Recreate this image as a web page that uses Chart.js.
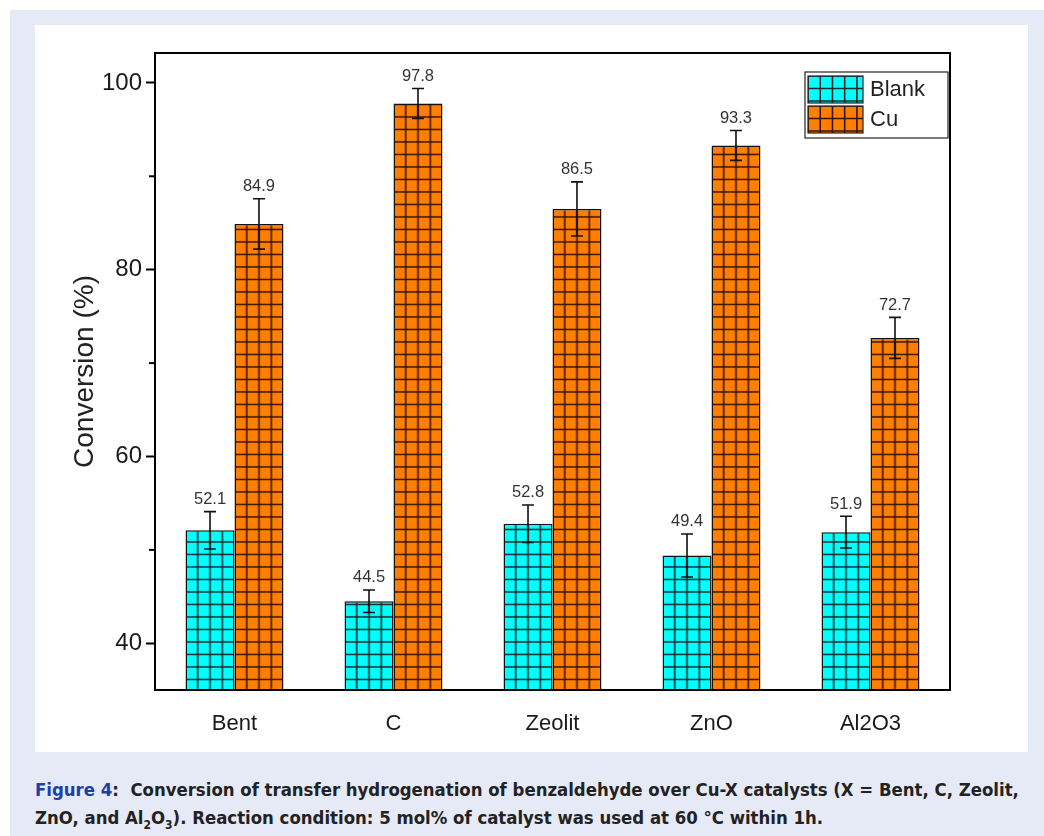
<!DOCTYPE html>
<html>
<head>
<meta charset="utf-8">
<script src="https://cdn.jsdelivr.net/npm/chart.js@4"></script>
<style>
  body { margin: 0; background: #fff; }
  #outer { position: absolute; left: 10px; top: 10px; width: 1034px; height: 826px; background: #e6eaf6; }
  #panel { position: absolute; left: 25px; top: 15px; width: 993px; height: 727px; background: #fff; }
  #caption { position: absolute; left: 25px; top: 766px; width: 1010px; font-family: "DejaVu Sans Condensed", "DejaVu Sans", sans-serif; font-weight: bold; font-size: 18.4px; line-height: 28px; color: #222; white-space: nowrap; }
  #caption .fig { color: #1c3fa8; }
  sub { font-size: 12px; line-height: 0; }
</style>
</head>
<body>
<div id="outer">
  <div id="panel"><canvas id="myChart" width="993" height="727"></canvas></div>
  <div id="caption"><span class="fig">Figure 4</span>:&nbsp; Conversion of transfer hydrogenation of benzaldehyde over Cu-X catalysts (X = Bent, C, Zeolit,<br>ZnO, and Al<sub>2</sub>O<sub>3</sub>). Reaction condition: 5 mol% of catalyst was used at 60&nbsp;&deg;C within 1h.</div>
</div>
<script>
// data
var categories = ['Bent', 'C', 'Zeolit', 'ZnO', 'Al2O3'];
var blankValues = [52.1, 44.5, 52.8, 49.4, 51.9];
var cuValues = [84.9, 97.8, 86.5, 93.3, 72.7];
var blankErrors = [2.0, 1.2, 2.0, 2.3, 1.7];
var cuErrors = [2.7, 1.6, 2.9, 1.6, 2.2];
var yTicks = [40, 60, 80, 100];

var FONT = 'Liberation Sans, Arial, sans-serif';

// square grid fill, one category wide so the cells line up with every bar
function gridPattern(fill, line) {
    var c = document.createElement('canvas');
    c.width = 159; c.height = 25;
    var g = c.getContext('2d');
    g.fillStyle = fill;
    g.fillRect(0, 0, c.width, c.height);
    g.strokeStyle = line;
    g.lineWidth = 1.6;
    g.beginPath();
    var cell = 159 / 13;
    for (var k = 0; k <= 13; k++) {
        g.moveTo(k * cell, 0); g.lineTo(k * cell, 25);
    }
    g.moveTo(0, 0); g.lineTo(159, 0);
    g.moveTo(0, 12.5); g.lineTo(159, 12.5);
    g.moveTo(0, 25); g.lineTo(159, 25);
    g.stroke();
    return g.createPattern(c, 'repeat');
}
var cyanPat = gridPattern('#00ffff', '#1b2b2b');
var orangePat = gridPattern('#ff8000', '#3a1400');

var extras = {
    id: 'extras',
    beforeDatasetsDraw: function (chart) {
        [cyanPat, orangePat].forEach(function (p, i) {
            var el = chart.getDatasetMeta(i).data[0];
            p.setTransform(new DOMMatrix([1, 0, 0, 1, el.x - el.width / 2, el.base]));
        });
    },
    afterDatasetsDraw: function (chart) {
        var ctx = chart.ctx;
        var y = chart.scales.y;
        var a = chart.chartArea;
        var errs = [blankErrors, cuErrors];
        ctx.save();
        // error bars and value labels
        chart.data.datasets.forEach(function (ds, i) {
            chart.getDatasetMeta(i).data.forEach(function (el, j) {
                var v = ds.data[j];
                var top = y.getPixelForValue(v + errs[i][j]);
                var bot = y.getPixelForValue(v - errs[i][j]);
                ctx.strokeStyle = '#111';
                ctx.lineWidth = 1.6;
                ctx.beginPath();
                ctx.moveTo(el.x, top); ctx.lineTo(el.x, bot);
                ctx.moveTo(el.x - 6, top); ctx.lineTo(el.x + 6, top);
                ctx.moveTo(el.x - 6, bot); ctx.lineTo(el.x + 6, bot);
                ctx.stroke();
                ctx.fillStyle = '#333';
                ctx.font = '16.5px ' + FONT;
                ctx.textAlign = 'center';
                ctx.textBaseline = 'bottom';
                ctx.fillText(v.toFixed(1), el.x, top - 4);
            });
        });
        // minor ticks
        ctx.strokeStyle = '#000';
        ctx.lineWidth = 2;
        [50, 70, 90].forEach(function (v) {
            var py = y.getPixelForValue(v);
            ctx.beginPath();
            ctx.moveTo(a.left - 6, py); ctx.lineTo(a.left, py);
            ctx.stroke();
        });
        // frame
        ctx.strokeRect(a.left, a.top, a.right - a.left, a.bottom - a.top);
        // legend
        var lx = 770, ly = 47;
        ctx.lineWidth = 1.2;
        ctx.strokeStyle = '#222';
        ctx.strokeRect(lx, ly, 143, 66);
        var names = ['Blank', 'Cu'];
        var pats = [cyanPat, orangePat];
        for (var i = 0; i < 2; i++) {
            var sy = ly + 4 + i * 30;
            pats[i].setTransform(new DOMMatrix([1, 0, 0, 1, lx + 3, sy]));
            ctx.fillStyle = pats[i];
            ctx.fillRect(lx + 3, sy, 55, 27);
            ctx.strokeStyle = '#222';
            ctx.strokeRect(lx + 3, sy, 55, 27);
            ctx.fillStyle = '#222';
            ctx.font = '22px ' + FONT;
            ctx.textAlign = 'left';
            ctx.textBaseline = 'middle';
            ctx.fillText(names[i], lx + 65, sy + 14);
        }
        ctx.restore();
    }
};

var myChart = document.getElementById('myChart').getContext('2d');
var conversionChart = new Chart(myChart, {
    type: 'bar',
    data: {
        labels: categories,
        datasets: [{
            label: 'Blank',
            data: blankValues,
            backgroundColor: cyanPat,
            borderColor: '#111',
            borderWidth: 1.5,
            categoryPercentage: 0.616,
            barPercentage: 1
        }, {
            label: 'Cu',
            data: cuValues,
            backgroundColor: orangePat,
            borderColor: '#111',
            borderWidth: 1.5,
            categoryPercentage: 0.616,
            barPercentage: 1
        }]
    },
    options: {
        responsive: false,
        animation: false,
        layout: { padding: { top: 28, right: 78, left: 0, bottom: 0 } },
        plugins: {
            legend: { display: false },
            tooltip: { enabled: false }
        },
        scales: {
            x: {
                grid: { display: false },
                border: { display: false },
                ticks: { color: '#1a1a1a', font: { family: FONT, size: 22 }, padding: 13 },
                afterFit: function (s) { s.height = 62; }
            },
            y: {
                min: 35,
                max: 103.2,
                grid: {
                    drawOnChartArea: false,
                    tickLength: 9,
                    tickWidth: 2,
                    tickColor: function (c) { return yTicks.indexOf(c.tick.value) >= 0 ? '#000' : 'rgba(0,0,0,0)'; }
                },
                border: { display: false },
                ticks: {
                    stepSize: 10,
                    includeBounds: false,
                    padding: 4,
                    color: '#1a1a1a',
                    font: { family: FONT, size: 24 },
                    callback: function (v) { return yTicks.indexOf(v) >= 0 ? v : ''; }
                },
                title: {
                    display: true,
                    text: 'Conversion (%)',
                    color: '#222',
                    font: { family: FONT, size: 28 },
                    padding: { top: 33, bottom: 0 }
                },
                afterFit: function (s) { s.width = 120; }
            }
        }
    },
    plugins: [extras]
});
</script>
</body>
</html>
